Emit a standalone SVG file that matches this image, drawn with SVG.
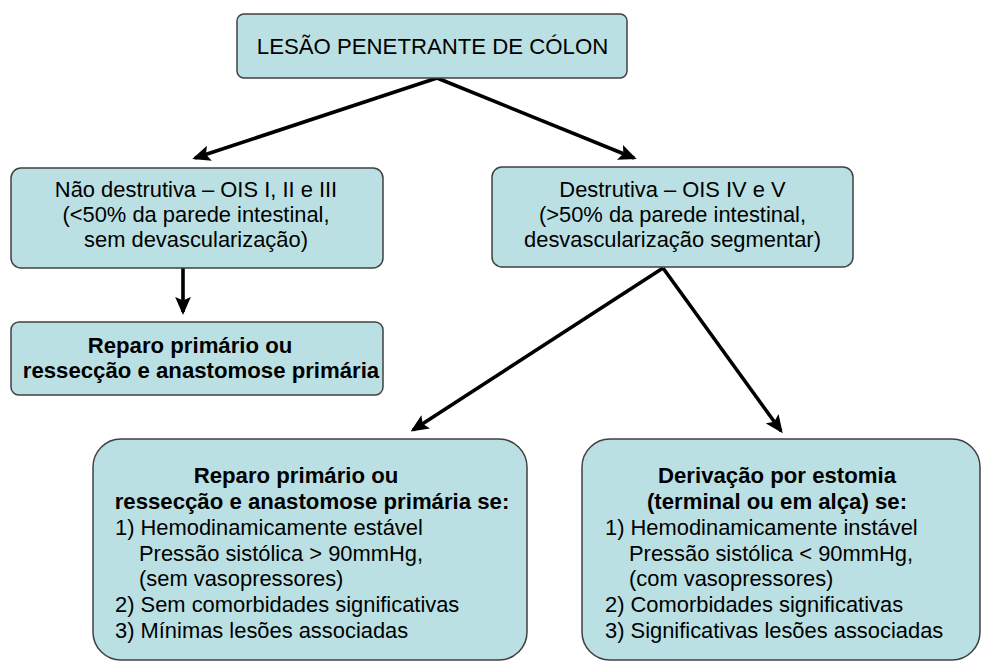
<svg xmlns="http://www.w3.org/2000/svg" width="984" height="662" viewBox="0 0 984 662">
<style>
.box{fill:#BBE0E3;stroke:#404040;stroke-width:1.5}
text{font-family:"Liberation Sans",Arial,sans-serif;font-size:21.9px;fill:#000}
.c{text-anchor:middle}
.b{font-weight:bold;font-size:22.2px}
.conn{stroke:#000;stroke-width:3.6;fill:none;marker-end:url(#ah)}
</style>
<defs>
<marker id="ah" markerWidth="5" markerHeight="4.4" refX="4.2" refY="2.2" orient="auto" markerUnits="strokeWidth">
<path d="M0,0 L5,2.2 L0,4.4 L1,2.2 Z" fill="#000"/>
</marker>
</defs>
<rect width="984" height="662" fill="#fff"/>
<g id="connectors">
<line class="conn" x1="437" y1="78" x2="195" y2="158"/>
<line class="conn" x1="437" y1="78" x2="634" y2="158"/>
<line class="conn" x1="183" y1="268" x2="183" y2="312"/>
<line class="conn" x1="663" y1="268" x2="413" y2="430"/>
<line class="conn" x1="663" y1="268" x2="781" y2="431"/>
</g>
<g id="n_root">
<rect class="box" x="237" y="14" width="390" height="64" rx="7"/>
<text class="c" x="432.5" y="54" style="font-size:22.2px">LESÃO PENETRANTE DE CÓLON</text>
</g>
<g id="n_nondestr">
<rect class="box" x="11" y="168" width="372" height="100" rx="10"/>
<text class="c" x="196" y="197">Não destrutiva – OIS I, II e III</text>
<text class="c" x="196" y="222">(&lt;50% da parede intestinal,</text>
<text class="c" x="196" y="247">sem devascularização)</text>
</g>
<g id="n_destr">
<rect class="box" x="492" y="167" width="361" height="100" rx="10"/>
<text class="c" x="672.5" y="197">Destrutiva – OIS IV e V</text>
<text class="c" x="672.5" y="222">(&gt;50% da parede intestinal,</text>
<text class="c" x="672.5" y="247">desvascularização segmentar)</text>
</g>
<g id="n_repair1">
<rect class="box" x="11" y="322" width="372" height="73" rx="8"/>
<text class="c b" x="190" y="353">Reparo primário ou</text>
<text class="c b" x="201" y="378">ressecção e anastomose primária</text>
</g>
<g id="n_repair2">
<rect class="box" x="93" y="439" width="434" height="221" rx="28"/>
<text class="c b" x="296" y="483">Reparo primário ou</text>
<text class="c b" x="312" y="509">ressecção e anastomose primária se:</text>
<text x="115" y="535">1) Hemodinamicamente estável</text>
<text x="139" y="561">Pressão sistólica &gt; 90mmHg,</text>
<text x="139" y="586">(sem vasopressores)</text>
<text x="115" y="612">2) Sem comorbidades significativas</text>
<text x="115" y="638">3) Mínimas lesões associadas</text>
</g>
<g id="n_stoma">
<rect class="box" x="582" y="439" width="398" height="221" rx="28"/>
<text class="c b" x="777" y="483">Derivação por estomia</text>
<text class="c b" x="777" y="509">(terminal ou em alça) se:</text>
<text x="605" y="535">1) Hemodinamicamente instável</text>
<text x="629" y="561">Pressão sistólica &lt; 90mmHg,</text>
<text x="629" y="586">(com vasopressores)</text>
<text x="605" y="612">2) Comorbidades significativas</text>
<text x="605" y="638">3) Significativas lesões associadas</text>
</g>
</svg>
